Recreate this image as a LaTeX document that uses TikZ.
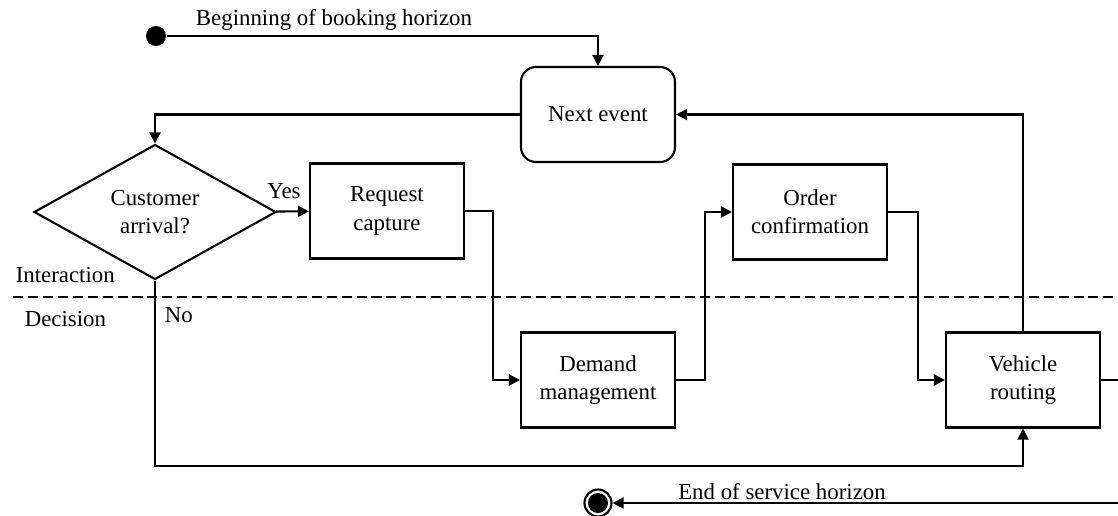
\documentclass[tikz,border=0pt]{standalone}
\usepackage{fontspec}
\setmainfont{Liberation Serif}
\usepackage{tikz}
\usetikzlibrary{shapes,calc}
\usetikzlibrary{arrows.meta,shapes.geometric,positioning}

\begin{document}
\begin{tikzpicture}[scale = 1, >={Triangle[length=0.22cm,width=0.22cm]}, line width=1.2pt,
  every node/.style={font=\fontsize{13}{16}\selectfont},
  box/.style={draw, minimum width=3.08cm, minimum height=1.9cm, align=center, inner sep=1pt},
  txt/.style={inner sep=1pt}]
\useasboundingbox (0,0) rectangle (22.36,-10.3);
\clip (0,0) rectangle (22.36,-10.3);
\node[box, rounded corners=0.3cm] (N) at (11.96,-2.29) {Next event};
\node[draw, diamond, aspect=1.8, minimum width=4.84cm, minimum height=2.7cm, inner sep=0pt, align=center] (C) at (3.1,-4.24) {Customer\\arrival?};
\node[box] (R) at (7.74,-4.22) {Request\\capture};
\node[box] (O) at (16.2,-4.24) {Order\\confirmation};
\node[box] (D) at (11.96,-7.6) {Demand\\management};
\node[box] (V) at (20.46,-7.6) {Vehicle\\routing};
\node[circle, fill, inner sep=0pt, minimum size=0.4cm] (S) at (3.12,-0.72) {};
\node[circle, draw, inner sep=0pt, minimum size=0.54cm] (E) at (11.96,-10.06) {};
\fill (E.center) circle (0.2);
\draw[->] (S) -| (N);
\draw[->] (N) -| (C);
\draw[->] (C) -- (R);
\draw[->] (R.east) -- ++(0.56,0) |- (D.west);
\draw[->] (D.east) -- ++(0.58,0) |- (O.west);
\draw[->] (O.east) -- ++(0.6,0) |- (V.west);
\draw[->] (V.north) |- (N.east);
\draw[->] (C.south) -- ++(0,-3.71) -| (V.south);
\draw[->] (V.east) -- ++(1.2,0) |- (E);
\draw[dash pattern=on 5.7pt off 2.8pt] (0.26,-5.94) -- (22.5,-5.94);
\node[txt] (yes) at (5.68,-3.82) {Yes};
\node[txt, anchor=west] (no) at (3.24,-6.3) {No};
\node[txt, anchor=west] (int) at (0.26,-5.5) {Interaction};
\node[txt, anchor=west] (dec) at (0.44,-6.38) {Decision};
\node[txt] (beg) at (6.68,-0.4) {Beginning of booking horizon};
\node[txt] (eos) at (15.64,-9.84) {End of service horizon};
\end{tikzpicture}
\end{document}
